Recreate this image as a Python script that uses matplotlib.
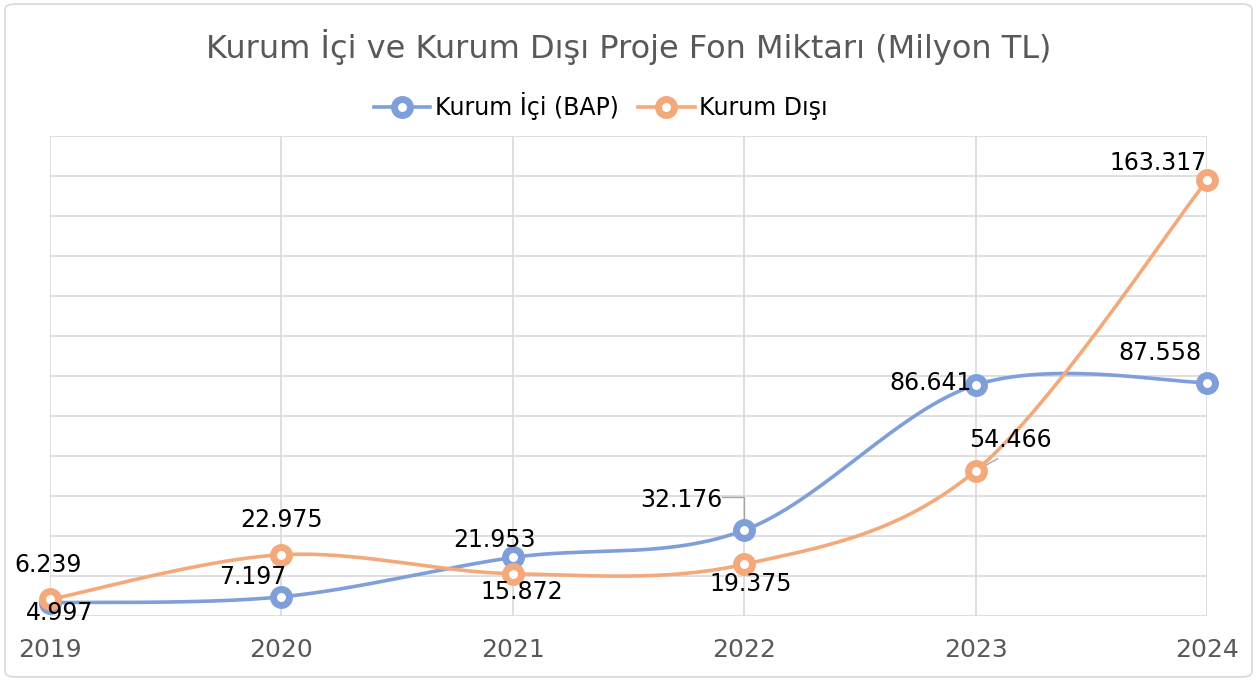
import numpy as np
import matplotlib.pyplot as plt
from matplotlib.patches import FancyBboxPatch

years = ['2019', '2020', '2021', '2022', '2023', '2024']
kurum_ici = [4.997, 7.197, 21.953, 32.176, 86.641, 87.558]
kurum_disi = [6.239, 22.975, 15.872, 19.375, 54.466, 163.317]

# etiket kaydirmalari (piksel)
ici_off = [(10, -10), (-29, 20), (-18, 17), (-63, 30), (-45, 2), (-47, 30)]
disi_off = [(-2, 34), (0, 35), (9, -18), (6, -20), (35, 31), (-49, 17)]

blue = '#7F9FDA'
orange = '#F4A97A'
gray = '#595959'


def smooth(x, y, n=60):
    # Catmull-Rom egrisi (Excel'deki yumusatilmis cizgi gibi)
    p = np.column_stack([x, y]).astype(float)
    p = np.vstack([p[0], p, p[-1]])
    out = []
    t = np.linspace(0, 1, n)[:, None]
    for i in range(1, len(p) - 2):
        p0, p1, p2, p3 = p[i - 1], p[i], p[i + 1], p[i + 2]
        c1 = p1 + (p2 - p0) / 6
        c2 = p2 - (p3 - p1) / 6
        seg = ((1 - t) ** 3) * p1 + 3 * ((1 - t) ** 2) * t * c1 + 3 * (1 - t) * t ** 2 * c2 + t ** 3 * p2
        out.append(seg)
    out = np.vstack(out)
    return out[:, 0], out[:, 1]


fig = plt.figure(figsize=(12.57, 6.81), dpi=100)
fig.patches.append(FancyBboxPatch((0.004, 0.006), 0.992, 0.988, boxstyle='round,pad=0,rounding_size=0.008',
                                  transform=fig.transFigure, fc='white', ec='#D9D9D9', lw=1.2, zorder=-10))
ax = fig.add_axes([0.0398, 0.0954, 0.9204, 0.7049])
x = np.arange(len(years))

for vals, col, name in [(kurum_ici, blue, 'Kurum İçi (BAP)'), (kurum_disi, orange, 'Kurum Dışı')]:
    sx, sy = smooth(x, vals)
    ax.plot(sx, sy, color=col, lw=2.6, zorder=3, solid_capstyle='round', clip_on=False)
    ax.plot(x, vals, 'o', color=col, ms=11.5, mew=5, mfc='white', mec=col, zorder=4, clip_on=False)
    ax.plot([], [], '-o', color=col, lw=2.6, ms=11.5, mew=5, mfc='white', mec=col, label=name)

for vals, offs in [(kurum_ici, ici_off), (kurum_disi, disi_off)]:
    for i, (v, o) in enumerate(zip(vals, offs)):
        ax.annotate(f'{v:.3f}', (x[i], v), xytext=o, textcoords='offset pixels',
                    ha='center', va='center', fontsize=17, color='black', zorder=6)

# kilavuz cizgileri
ax.annotate('', (x[3], kurum_ici[3]), xytext=(-22, 33), textcoords='offset pixels',
            arrowprops=dict(arrowstyle='-', color='#A6A6A6', lw=1, shrinkA=0, shrinkB=0,
                            connectionstyle='angle,angleA=0,angleB=90,rad=0'), zorder=3.5)
ax.annotate('', (x[4], kurum_disi[4]), xytext=(22, 12), textcoords='offset pixels',
            arrowprops=dict(arrowstyle='-', color='#A6A6A6', lw=1, shrinkA=0, shrinkB=0), zorder=3.5)

ax.set_xlim(0, 5)
ax.set_ylim(0, 180)
ax.set_yticks(np.arange(0, 181, 15))
ax.set_xticks(x)
ax.set_xticklabels(years)
ax.tick_params(axis='y', left=False, labelleft=False)
ax.tick_params(axis='x', length=0, pad=16, labelsize=18, labelcolor=gray)
ax.grid(True, color='#D9D9D9', lw=1.2)
ax.set_axisbelow(True)
for s in ax.spines.values():
    s.set_visible(False)

fig.text(0.5, 0.931, 'Kurum İçi ve Kurum Dışı Proje Fon Miktarı (Milyon TL)', ha='center', va='center',
         fontsize=23, color=gray)
fig.legend(loc='center', bbox_to_anchor=(0.478, 0.844), ncol=2, frameon=False, fontsize=17,
           handlelength=2.4, columnspacing=0.8, handletextpad=0.2)

fig.savefig('out.png', dpi=100)
